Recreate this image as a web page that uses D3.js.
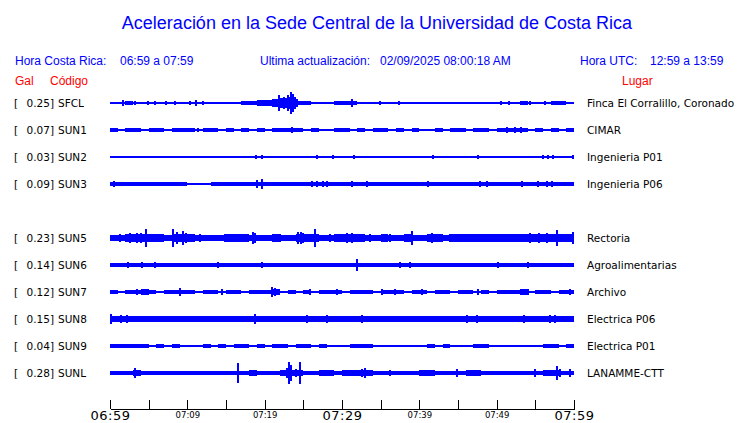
<!DOCTYPE html>
<html>
<head>
<meta charset="utf-8">
<script src="https://cdn.jsdelivr.net/npm/d3@7"></script>
<style>
  body { margin: 0; background: #fff; }
  svg { display: block; }
  text { font-family: "DejaVu Sans", sans-serif; }
  .hdr { font-family: "Liberation Sans", Arial, sans-serif; }
</style>
</head>
<body>
<script>
var width = 740,
    height = 423;

// header texts
var title = "Aceleración en la Sede Central de la Universidad de Costa Rica";
var horaLocal = "06:59 a 07:59";
var actualizacion = "02/09/2025 08:00:18 AM";
var horaUTC = "12:59 a 13:59";

// rows (SUN4 slot is empty in the reference)
var rowSlots = ["SFCL","SUN1","SUN2","SUN3","SUN4","SUN5","SUN6","SUN7","SUN8","SUN9","SUNL"];
var codes  = ["SFCL","SUN1","SUN2","SUN3","SUN5","SUN6","SUN7","SUN8","SUN9","SUNL"];
var peaks  = [0.25, 0.07, 0.03, 0.09, 0.23, 0.14, 0.12, 0.15, 0.04, 0.28];
var places = ["Finca El Corralillo, Coronado","CIMAR","Ingenieria P01","Ingenieria P06",
              "Rectoria","Agroalimentarias","Archivo","Electrica P06","Electrica P01","LANAMME-CTT"];

// background envelope per minute (Gal), 60 minutes from 06:59
var bandSFCL = [0.012,0.012,0.05,0.012,0.012,0.012,0.012,0.012,0.012,0.012,
                0.012,0.035,0.012,0.012,0.012,0.012,0.012,0.045,0.05,0.065,
                0.065,0.1,0.12,0.15,0.05,0.05,0.012,0.012,0.012,0.05,
                0.055,0.04,0.012,0.012,0.012,0.012,0.012,0.012,0.012,0.012,
                0.012,0.012,0.012,0.012,0.012,0.012,0.012,0.012,0.012,0.012,
                0.012,0.012,0.012,0.04,0.012,0.012,0.012,0.045,0.045,0.012];
var bandSUN1 = [0.036,0.012,0.036,0.036,0.012,0.036,0.04,0.012,0.036,0.036,
                0.04,0.012,0.036,0.036,0.012,0.036,0.012,0.036,0.012,0.036,
                0.012,0.036,0.045,0.045,0.036,0.012,0.036,0.012,0.012,0.036,
                0.036,0.012,0.036,0.012,0.04,0.036,0.012,0.036,0.012,0.036,
                0.012,0.012,0.036,0.012,0.036,0.036,0.012,0.036,0.036,0.012,
                0.04,0.05,0.05,0.036,0.012,0.036,0.012,0.036,0.012,0.036];
var bandSUN2 = [0.035,0.012,0.012,0.012,0.012,0.012,0.012,0.012,0.012,0.012,
                0.012,0.012,0.012,0.012,0.012,0.012,0.012,0.012,0.012,0.012,
                0.012,0.012,0.012,0.012,0.012,0.012,0.012,0.012,0.012,0.012,
                0.012,0.012,0.012,0.012,0.012,0.012,0.012,0.012,0.012,0.012,
                0.012,0.012,0.012,0.012,0.012,0.012,0.012,0.012,0.012,0.012,
                0.012,0.012,0.012,0.012,0.012,0.012,0.012,0.012,0.012,0.012];
var bandSUN3 = [0.043,0.043,0.043,0.043,0.043,0.043,0.043,0.043,0.043,0.043,
                0.012,0.012,0.012,0.043,0.043,0.043,0.043,0.043,0.043,0.043,
                0.043,0.043,0.043,0.043,0.043,0.043,0.043,0.043,0.043,0.043,
                0.043,0.043,0.043,0.043,0.043,0.043,0.043,0.043,0.043,0.043,
                0.043,0.043,0.043,0.043,0.043,0.043,0.043,0.043,0.043,0.043,
                0.043,0.043,0.043,0.043,0.043,0.043,0.043,0.043,0.043,0.043];
var bandSUN5 = [0.08,0.08,0.085,0.09,0.1,0.09,0.085,0.08,0.09,0.1,
                0.085,0.08,0.075,0.08,0.08,0.085,0.09,0.085,0.08,0.075,
                0.08,0.085,0.08,0.075,0.09,0.1,0.09,0.08,0.08,0.085,
                0.09,0.085,0.085,0.08,0.08,0.085,0.08,0.08,0.085,0.08,
                0.08,0.085,0.085,0.08,0.09,0.095,0.095,0.09,0.09,0.095,
                0.09,0.09,0.095,0.1,0.1,0.095,0.095,0.1,0.1,0.1];
var bandSUN6 = [0.043,0.043,0.043,0.043,0.043,0.043,0.043,0.043,0.043,0.043,
                0.043,0.043,0.043,0.043,0.043,0.043,0.043,0.043,0.043,0.043,
                0.043,0.043,0.043,0.043,0.043,0.043,0.043,0.043,0.043,0.043,
                0.043,0.043,0.043,0.043,0.043,0.043,0.043,0.043,0.043,0.043,
                0.043,0.043,0.043,0.043,0.043,0.043,0.043,0.043,0.043,0.043,
                0.043,0.043,0.043,0.043,0.043,0.043,0.043,0.043,0.043,0.043];
var bandSUN7 = [0.045,0.03,0.04,0.055,0.06,0.055,0.03,0.045,0.055,0.04,
                0.05,0.03,0.04,0.05,0.03,0.045,0.05,0.03,0.05,0.04,
                0.05,0.06,0.03,0.045,0.03,0.045,0.03,0.05,0.055,0.05,
                0.03,0.04,0.055,0.05,0.03,0.05,0.055,0.05,0.03,0.04,
                0.05,0.03,0.04,0.05,0.03,0.05,0.045,0.03,0.05,0.03,
                0.05,0.04,0.055,0.06,0.03,0.05,0.04,0.03,0.05,0.045];
var bandSUN8 = [0.08,0.075,0.08,0.07,0.075,0.08,0.075,0.07,0.075,0.08,
                0.075,0.07,0.065,0.06,0.065,0.06,0.065,0.06,0.065,0.06,
                0.065,0.07,0.06,0.065,0.07,0.065,0.06,0.065,0.07,0.065,
                0.06,0.065,0.07,0.065,0.06,0.065,0.065,0.06,0.065,0.06,
                0.065,0.06,0.065,0.07,0.065,0.06,0.065,0.07,0.065,0.07,
                0.07,0.075,0.07,0.07,0.075,0.08,0.075,0.07,0.075,0.07];
var bandSUN9 = [0.04,0.04,0.04,0.04,0.04,0.035,0.04,0.035,0.04,0.035,
                0.012,0.035,0.04,0.035,0.04,0.035,0.04,0.04,0.025,0.04,
                0.035,0.04,0.04,0.025,0.04,0.04,0.035,0.04,0.035,0.025,
                0.012,0.04,0.04,0.04,0.035,0.012,0.012,0.02,0.012,0.02,
                0.012,0.04,0.035,0.04,0.012,0.035,0.012,0.04,0.04,0.012,
                0.035,0.012,0.035,0.012,0.035,0.012,0.04,0.04,0.012,0.04];
var bandSUNL = [0.05,0.04,0.045,0.06,0.055,0.04,0.04,0.05,0.045,0.04,
                0.04,0.05,0.05,0.04,0.04,0.04,0.04,0.055,0.06,0.04,
                0.04,0.045,0.06,0.065,0.06,0.045,0.04,0.06,0.06,0.055,
                0.065,0.07,0.065,0.06,0.045,0.04,0.055,0.04,0.04,0.045,
                0.06,0.06,0.055,0.04,0.04,0.045,0.06,0.06,0.05,0.04,
                0.05,0.045,0.04,0.04,0.055,0.04,0.06,0.065,0.055,0.05];

// spikes: [minutes after 06:59, amplitude Gal]
var spikesSFCL = [[1.7,0.07],[3.2,0.04],[4.9,0.04],[5.8,0.04],[7.2,0.05],[8.4,0.04],[10.3,0.05],
                  [11.1,0.06],[12,0.05],[13.6,0.03],[14.9,0.03],[15.9,0.03],
                  [21.9,0.19],[22.5,0.14],[23,0.2],[23.4,0.26],[23.7,0.22],[24.2,0.1],
                  [26.8,0.03],[28.7,0.03],[31.3,0.1],[33.8,0.03],[34.9,0.04],[36.5,0.03],
                  [37.4,0.04],[39.1,0.03],[50.5,0.04],[51.6,0.05],[53.6,0.05],[54.3,0.05],
                  [56.3,0.04],[57.6,0.05],[58.6,0.05]];
var spikesSUN1 = [[2.5,0.05],[6.2,0.05],[11.4,0.05],[23.5,0.08],[30.1,0.05],[35.2,0.05],
                  [51.3,0.065],[52.4,0.08],[53.1,0.06],[59.9,0.05]];
var spikesSUN2 = [[0.4,0.03],[1.3,0.03],[2.1,0.03],[2.6,0.03],[3.1,0.03],[3.5,0.03],[4.8,0.03],
                  [18.9,0.04],[19.7,0.04],[26.8,0.04],[27.4,0.03],[28.8,0.04],[31.6,0.04],
                  [33.2,0.035],[37.9,0.03],[40.6,0.035],[41.1,0.035],[41.8,0.04],[45.7,0.03],
                  [47.6,0.04],[48.8,0.035],[52,0.03],[53.3,0.03],[54.7,0.03],[56,0.04],
                  [56.7,0.04],[57.3,0.04],[59.9,0.045]];
var spikesSUN3 = [[0.5,0.06],[1.9,0.055],[3.2,0.055],[19,0.1],[19.7,0.12],[26.1,0.06],
                  [26.8,0.06],[27.6,0.06],[28.1,0.06],[31.3,0.06],[33.2,0.07],[41.1,0.07],
                  [47.9,0.06],[48.8,0.06],[53.3,0.06],[55.4,0.06],[56.5,0.08],[57.2,0.08]];
var spikesSUN5 = [[1.3,0.1],[2.6,0.12],[3.5,0.12],[4.0,0.12],[4.7,0.21],[6.5,0.1],[8.2,0.22],
                  [8.6,0.14],[9.4,0.17],[9.8,0.13],[11.6,0.1],[14.9,0.1],[18.5,0.14],[18.8,0.12],
                  [22,0.1],[24.3,0.14],[24.7,0.15],[25,0.12],[26.5,0.22],[28.5,0.1],[30.7,0.12],
                  [31.3,0.12],[33.6,0.1],[36.2,0.1],[39.1,0.17],[41.7,0.12],[44,0.1],[46.6,0.1],
                  [49.5,0.1],[51.8,0.1],[54.3,0.12],[55.5,0.12],[56.5,0.12],[57.8,0.19],[59.9,0.14]];
var spikesSUN6 = [[2.3,0.08],[4.1,0.06],[5.8,0.07],[8.7,0.05],[11.6,0.05],[14,0.06],
                  [18.1,0.05],[19.7,0.06],[21.1,0.05],[23.5,0.05],[28.2,0.05],[32,0.15],
                  [37.5,0.07],[38.8,0.06],[42.3,0.05],[43.1,0.05],[50.2,0.06],[54.1,0.08],
                  [57.8,0.05],[59.5,0.05]];
var spikesSUN7 = [[3.5,0.07],[4.2,0.07],[4.8,0.07],[9.1,0.1],[14.5,0.06],[21,0.13],[21.4,0.09],
                  [25.8,0.06],[29.4,0.07],[35.2,0.06],[36.9,0.06],[40.3,0.06],[47.6,0.07],
                  [53.1,0.07],[54,0.07],[59.5,0.07]];
var spikesSUN8 = [[0.1,0.12],[1.4,0.085],[2.2,0.085],[3.7,0.08],[5.5,0.08],[7.3,0.08],[10.4,0.08],
                  [13.2,0.075],[18.8,0.12],[21.5,0.08],[23.9,0.08],[25.5,0.085],[28.1,0.1],
                  [30.3,0.08],[32.6,0.085],[35.1,0.08],[37.9,0.08],[41.2,0.08],[44.4,0.08],
                  [46.2,0.085],[47.5,0.085],[50.7,0.08],[53.5,0.085],[56.9,0.1],[57.6,0.09]];
var spikesSUN9 = [[37.9,0.035],[39.2,0.035],[45.1,0.035]];
var spikesSUNL = [[3.2,0.12],[16.6,0.23],[18.1,0.07],[22.9,0.12],[23.2,0.26],[23.4,0.2],
                  [24.0,0.1],[24.6,0.26],[28.2,0.07],[32.6,0.09],[33,0.13],[36.2,0.08],
                  [44.9,0.085],[55,0.1],[57.8,0.17],[58.2,0.1],[59.5,0.09]];

var bands  = [bandSFCL, bandSUN1, bandSUN2, bandSUN3, bandSUN5, bandSUN6, bandSUN7, bandSUN8, bandSUN9, bandSUNL];
var spikes = [spikesSFCL, spikesSUN1, spikesSUN2, spikesSUN3, spikesSUN5, spikesSUN6, spikesSUN7, spikesSUN8, spikesSUN9, spikesSUNL];

// axis ticks
var tickMinutes = [0,5,10,15,20,25,30,35,40,45,50,55,60];
var bigLabels = ["06:59","07:29","07:59"];

var blue = "#0000ff", red = "#ff0000";

var svg = d3.select("body").append("svg")
    .attr("width", width)
    .attr("height", height);

var t0 = new Date(2025, 8, 2, 6, 59);
var x = d3.scaleTime()
    .domain([t0, d3.timeMinute.offset(t0, 60)])
    .range([110, 574]);
var y = d3.scalePoint().domain(rowSlots).range([103, 373]);
var amp = d3.scaleLinear().domain([0, 0.25]).range([0, 10.5]);
var fmt = d3.timeFormat("%H:%M");

function minute(m) { return new Date(t0.getTime() + m * 60000); }

// HEADER
svg.append("text").attr("class", "hdr")
  .attr("x", 377).attr("y", 29).attr("text-anchor", "middle")
  .attr("fill", blue).attr("font-size", 18)
  .text(title);

var header = [
  ["Hora Costa Rica:", 15], [horaLocal, 120],
  ["Ultima actualización:", 260], [actualizacion, 380],
  ["Hora UTC:", 580], [horaUTC, 650]
];
svg.append("g").selectAll("text").data(header).enter().append("text")
  .attr("class", "hdr")
  .attr("x", function(d) { return d[1]; })
  .attr("y", 65)
  .attr("fill", blue).attr("font-size", 12)
  .text(function(d) { return d[0]; });

var redHdr = [["Gal", 15], ["Código", 50], ["Lugar", 622]];
svg.append("g").selectAll("text").data(redHdr).enter().append("text")
  .attr("class", "hdr")
  .attr("x", function(d) { return d[1]; })
  .attr("y", 85)
  .attr("fill", red).attr("font-size", 12)
  .text(function(d) { return d[0]; });

// TRACES
var area = d3.area()
  .curve(d3.curveStepAfter)
  .x(function(d) { return x(d.t); });

codes.forEach(function(code, i) {
  var cy = y(code);
  var g = svg.append("g").attr("class", "trace").attr("shape-rendering", "crispEdges");

  var pts = bands[i].map(function(v, m) { return {t: minute(m), v: v}; });
  pts.push({t: minute(60), v: bands[i][59]});

  g.append("path")
    .datum(pts)
    .attr("fill", blue)
    .attr("d", area
      .y0(function(d) { return cy - Math.max(0.5, amp(d.v)); })
      .y1(function(d) { return cy + Math.max(0.5, amp(d.v)); }));

  g.selectAll("rect").data(spikes[i]).enter().append("rect")
    .attr("fill", blue)
    .attr("x", function(d) { return x(minute(d[0])) - 1; })
    .attr("width", 2)
    .attr("y", function(d) { return cy - amp(d[1]); })
    .attr("height", function(d) { return 2 * amp(d[1]); });

  // left labels
  svg.append("text")
    .attr("x", 14).attr("y", cy).attr("dy", "0.35em")
    .attr("font-size", 10.5).attr("fill", "#000")
    .text("[");
  svg.append("text")
    .attr("x", 54).attr("y", cy).attr("dy", "0.35em")
    .attr("font-size", 10.5).attr("fill", "#000").attr("text-anchor", "end")
    .text(peaks[i].toFixed(2) + "]");
  svg.append("text")
    .attr("x", 58).attr("y", cy).attr("dy", "0.35em")
    .attr("font-size", 10.5).attr("fill", "#000")
    .text(code);

  // place names
  svg.append("text")
    .attr("x", 587).attr("y", cy).attr("dy", "0.35em")
    .attr("font-size", 10.5).attr("fill", "#000")
    .text(places[i]);
});

// AXIS
var axis = d3.axisBottom(x)
  .tickValues(tickMinutes.map(minute))
  .tickSizeInner(-9)
  .tickSizeOuter(0)
  .tickPadding(3)
  .tickFormat(function(d, i) { return tickMinutes[i] % 10 === 0 ? fmt(d) : ""; });

var ax = svg.append("g")
  .attr("transform", "translate(0,409)")
  .attr("shape-rendering", "crispEdges")
  .call(axis);

ax.select(".domain").attr("stroke", "#000");
ax.selectAll(".tick line").attr("stroke", "#000");
ax.selectAll(".tick text")
  .attr("fill", "#000")
  .attr("font-family", "DejaVu Sans, sans-serif")
  .attr("font-size", function() { return bigLabels.indexOf(this.textContent) >= 0 ? 13 : 8.5; })
  .attr("letter-spacing", function() { return bigLabels.indexOf(this.textContent) >= 0 ? 0.5 : 0; })
  .attr("y", function() { return bigLabels.indexOf(this.textContent) >= 0 ? 2 : 3; });
</script>
</body>
</html>
